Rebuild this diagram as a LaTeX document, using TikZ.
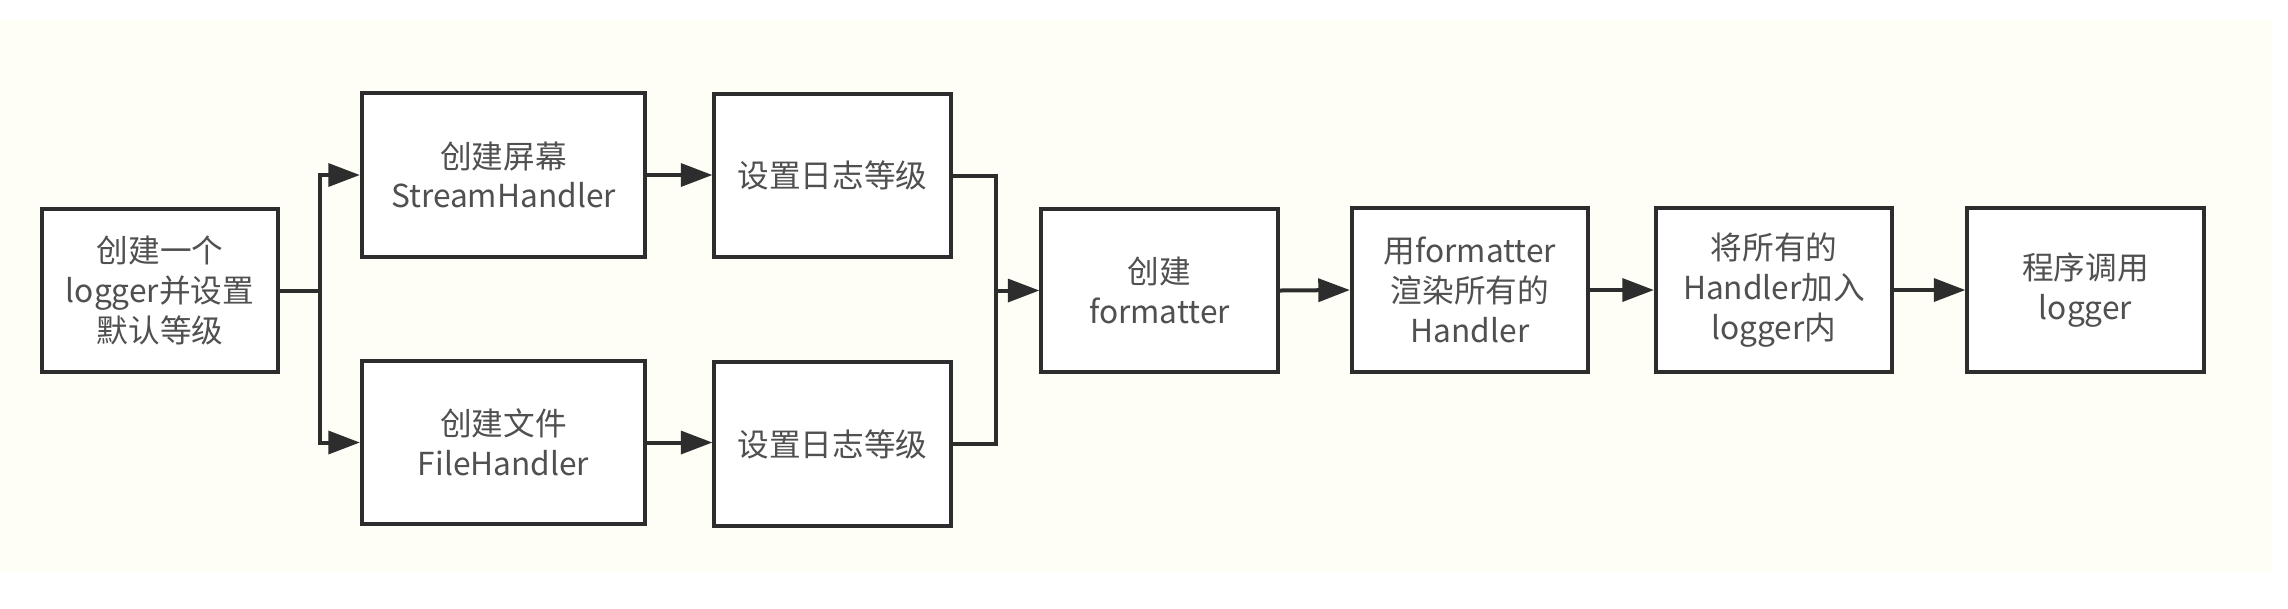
\documentclass[tikz,border=0pt]{standalone}
\usepackage{fontspec}
\setmainfont{Noto Sans CJK SC}
\usetikzlibrary{arrows.meta}
\definecolor{panel}{RGB}{254,254,246}
\definecolor{edge}{RGB}{45,45,45}
\definecolor{txt}{RGB}{80,80,80}
\begin{document}
\begin{tikzpicture}[x=0.01cm,y=-0.01cm,
  box/.style={draw=edge, line width=0.04cm, fill=white, align=center, text=txt,
    font=\fontsize{9pt}{11.3pt}\selectfont, inner sep=0pt,
    minimum width=2.36cm, minimum height=1.63cm},
  wbox/.style={box, minimum width=2.83cm},
  conn/.style={draw=edge, line width=0.04cm},
  arr/.style={conn, -{Triangle[length=9pt,width=6.5pt]}}]
\useasboundingbox (0,0) rectangle (2288,608);
\fill[white] (0,0) rectangle (2288,608);
\fill[panel] (0,20) rectangle (2272,572);

\node[box]  (b1) at (160,290.5)  {创建一个\\logger并设置\\默认等级};
\node[wbox] (b2) at (503.5,175)  {创建屏幕\\StreamHandler};
\node[box]  (b3) at (832.5,175.5){设置日志等级};
\node[wbox] (b4) at (503.5,442.5){创建文件\\FileHandler};
\node[box]  (b5) at (832.5,444)  {设置日志等级};
\node[box]  (b6) at (1159.5,290.5){创建\\formatter};
\node[box]  (b7) at (1470,290)   {用formatter\\渲染所有的\\Handler};
\node[box]  (b8) at (1774,290)   {将所有的\\Handler加入\\logger内};
\node[box]  (b9) at (2085.5,290) {程序调用\\logger};

\coordinate (split) at (320,290.5);
\coordinate (merge) at (996,290.5);

\draw[conn] (b1.east) -- (split);
\draw[arr] (split) |- (b2.west);
\draw[arr] (split) |- (b4.west);
\draw[arr] (b2.east) -- (b3.west |- b2.east);
\draw[arr] (b4.east) -- (b5.west |- b4.east);
\draw[conn] (b3.east) -| (merge);
\draw[conn] (b5.east) -| (merge);
\draw[arr] (merge) -- (b6.west);
\draw[arr] (b6.east) -- (b7.west);
\draw[arr] (b7.east) -- (b8.west);
\draw[arr] (b8.east) -- (b9.west);
\end{tikzpicture}
\end{document}
